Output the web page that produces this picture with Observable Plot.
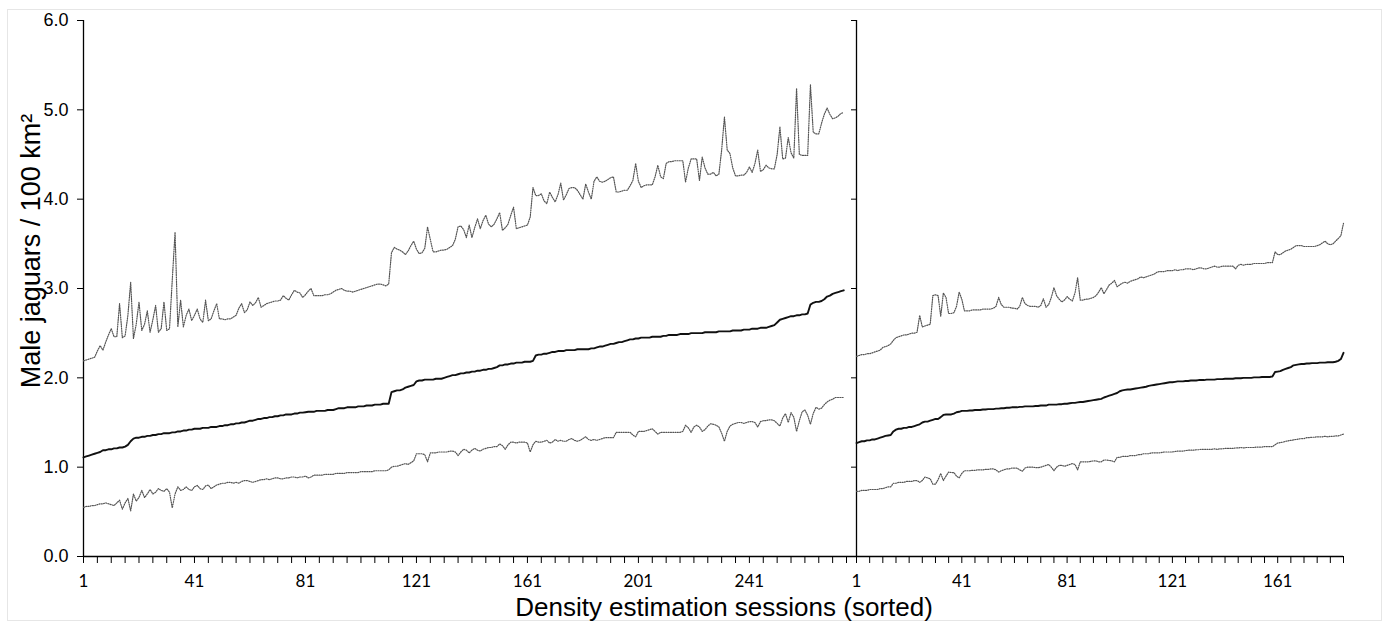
<!DOCTYPE html>
<html><head><meta charset="utf-8">
<script src="https://cdn.jsdelivr.net/npm/d3@7"></script>
<script src="https://cdn.jsdelivr.net/npm/@observablehq/plot@0.6"></script>
<style>
html,body{margin:0;padding:0;background:#fff;}
#wrap{position:relative;width:1388px;height:623px;overflow:hidden;background:#fff;}
#frame{position:absolute;left:7px;top:9px;width:1373px;height:610px;border:1px solid #e6e6e6;}
.panel{position:absolute;top:0;}
#ytitle{position:absolute;left:31px;top:251px;transform:translate(-50%,-50%) rotate(-90deg);white-space:nowrap;font-family:"Liberation Sans",Arial,sans-serif;font-size:27px;line-height:27px;color:#000;}
#xtitle{position:absolute;left:724px;top:594px;transform:translateX(-50%);white-space:nowrap;font-family:"Liberation Sans",Arial,sans-serif;font-size:26px;line-height:26px;color:#000;}
</style></head><body>
<div id="wrap"><div id="frame"></div><div id="left" class="panel" style="left:0px"></div><div id="right" class="panel" style="left:840px"></div>
<div id="ytitle">Male jaguars / 100 km²</div>
<div id="xtitle">Density estimation sessions (sorted)</div>
</div>
<script>
// ---- Data: left panel (275 sessions) ----
const leftMid = [
1.11,1.12,1.13,1.14,1.15,1.16,1.17,1.19,1.19,1.20,
1.20,1.21,1.21,1.22,1.22,1.23,1.25,1.29,1.32,1.33,
1.33,1.34,1.34,1.35,1.35,1.36,1.36,1.37,1.37,1.38,
1.38,1.38,1.39,1.39,1.40,1.40,1.41,1.41,1.42,1.42,
1.43,1.43,1.43,1.44,1.44,1.44,1.45,1.45,1.45,1.46,
1.46,1.47,1.47,1.48,1.48,1.49,1.49,1.50,1.50,1.51,
1.52,1.52,1.53,1.54,1.54,1.55,1.55,1.56,1.56,1.57,
1.57,1.58,1.58,1.59,1.59,1.59,1.60,1.60,1.61,1.61,
1.615,1.62,1.62,1.62,1.63,1.63,1.63,1.63,1.64,1.64,
1.64,1.65,1.66,1.66,1.66,1.67,1.67,1.67,1.67,1.68,
1.68,1.68,1.69,1.69,1.69,1.70,1.70,1.70,1.71,1.71,
1.71,1.84,1.85,1.86,1.86,1.87,1.89,1.90,1.91,1.92,
1.96,1.97,1.97,1.98,1.98,1.98,1.98,1.99,1.99,1.99,
2.00,2.01,2.02,2.03,2.03,2.04,2.05,2.05,2.06,2.06,
2.07,2.07,2.08,2.08,2.09,2.09,2.10,2.10,2.11,2.12,
2.14,2.14,2.15,2.15,2.16,2.16,2.17,2.17,2.17,2.18,
2.18,2.18,2.19,2.25,2.26,2.26,2.27,2.27,2.28,2.29,
2.29,2.30,2.30,2.30,2.31,2.31,2.31,2.31,2.32,2.32,
2.32,2.32,2.32,2.33,2.33,2.34,2.35,2.35,2.36,2.37,
2.38,2.38,2.39,2.40,2.40,2.41,2.42,2.43,2.43,2.44,
2.44,2.45,2.45,2.45,2.45,2.46,2.46,2.46,2.46,2.47,
2.47,2.48,2.48,2.48,2.48,2.49,2.49,2.49,2.49,2.50,
2.50,2.50,2.50,2.50,2.51,2.51,2.51,2.51,2.51,2.52,
2.52,2.52,2.52,2.52,2.53,2.53,2.53,2.53,2.54,2.54,
2.54,2.55,2.55,2.55,2.56,2.56,2.56,2.57,2.58,2.59,
2.62,2.65,2.66,2.67,2.68,2.69,2.69,2.70,2.70,2.71,
2.71,2.72,2.82,2.84,2.85,2.85,2.86,2.88,2.91,2.92,
2.94,2.95,2.96,2.97,2.98];
const leftUpper = [
2.19,2.20,2.21,2.22,2.23,2.30,2.36,2.31,2.40,2.48,
2.55,2.46,2.46,2.83,2.45,2.47,2.70,3.07,2.44,2.60,
2.85,2.53,2.60,2.75,2.51,2.65,2.81,2.51,2.55,2.85,
2.53,2.55,3.10,3.63,2.57,2.87,2.57,2.70,2.77,2.64,
2.70,2.77,2.66,2.62,2.87,2.64,2.66,2.75,2.83,2.66,
2.66,2.65,2.66,2.66,2.68,2.70,2.78,2.83,2.73,2.76,
2.85,2.81,2.84,2.90,2.79,2.81,2.83,2.84,2.85,2.86,
2.86,2.87,2.92,2.89,2.87,2.93,2.98,2.96,2.95,2.90,
2.93,2.97,3.00,2.92,2.92,2.92,2.92,2.93,2.93,2.94,
2.96,2.98,2.99,3.00,2.98,2.97,2.97,2.96,2.97,2.98,
2.99,3.00,3.01,3.02,3.03,3.04,3.05,3.05,3.04,3.03,
3.05,3.40,3.46,3.44,3.43,3.41,3.38,3.42,3.48,3.53,
3.44,3.39,3.40,3.45,3.69,3.55,3.41,3.41,3.42,3.43,
3.43,3.44,3.46,3.48,3.55,3.69,3.70,3.66,3.57,3.71,
3.57,3.68,3.78,3.67,3.76,3.82,3.72,3.69,3.72,3.78,
3.85,3.65,3.68,3.72,3.82,3.91,3.67,3.68,3.69,3.70,
3.71,3.80,4.13,4.04,4.04,4.06,3.98,3.95,4.08,4.02,
3.97,4.05,4.18,3.99,4.05,4.12,4.13,4.13,4.10,4.05,
4.00,4.17,4.08,4.00,4.20,4.25,4.20,4.19,4.20,4.22,
4.24,4.25,4.08,4.08,4.09,4.10,4.10,4.15,4.21,4.40,
4.20,4.13,4.15,4.16,4.16,4.16,4.25,4.38,4.25,4.23,
4.40,4.42,4.42,4.43,4.43,4.43,4.43,4.19,4.35,4.45,
4.45,4.45,4.21,4.47,4.35,4.28,4.28,4.30,4.26,4.28,
4.55,4.92,4.55,4.51,4.35,4.26,4.26,4.27,4.27,4.30,
4.36,4.30,4.40,4.55,4.31,4.33,4.38,4.35,4.34,4.34,
4.50,4.81,4.45,4.46,4.69,4.52,4.46,5.24,4.50,4.49,
4.49,4.49,5.28,4.75,4.73,4.73,4.85,4.95,5.02,4.95,
4.90,4.91,4.93,4.96,4.97];
const leftLower = [
0.55,0.56,0.56,0.57,0.57,0.58,0.59,0.59,0.60,0.59,
0.58,0.57,0.60,0.63,0.53,0.60,0.65,0.51,0.70,0.62,
0.66,0.74,0.66,0.70,0.75,0.70,0.72,0.76,0.74,0.73,
0.76,0.72,0.545,0.70,0.78,0.74,0.75,0.78,0.75,0.74,
0.78,0.795,0.76,0.75,0.79,0.80,0.76,0.78,0.80,0.81,
0.82,0.82,0.83,0.83,0.82,0.83,0.82,0.84,0.85,0.85,
0.84,0.83,0.84,0.85,0.86,0.86,0.87,0.86,0.87,0.88,
0.88,0.87,0.87,0.88,0.88,0.89,0.89,0.88,0.89,0.89,
0.90,0.88,0.89,0.91,0.91,0.91,0.91,0.92,0.92,0.92,
0.92,0.93,0.93,0.93,0.93,0.94,0.94,0.94,0.94,0.94,
0.95,0.95,0.95,0.95,0.95,0.96,0.96,0.96,0.96,0.96,
0.97,1.00,1.01,1.01,1.02,1.03,1.04,1.03,1.05,1.07,
1.15,1.15,1.15,1.14,1.06,1.16,1.16,1.16,1.17,1.17,
1.17,1.17,1.18,1.18,1.17,1.13,1.17,1.20,1.19,1.16,
1.19,1.21,1.19,1.18,1.20,1.21,1.22,1.22,1.23,1.23,
1.26,1.24,1.20,1.25,1.28,1.28,1.27,1.28,1.28,1.28,
1.27,1.17,1.25,1.29,1.28,1.28,1.29,1.30,1.27,1.28,
1.31,1.29,1.30,1.29,1.29,1.31,1.32,1.30,1.29,1.30,
1.32,1.34,1.31,1.30,1.31,1.30,1.31,1.32,1.33,1.33,
1.33,1.33,1.39,1.39,1.39,1.39,1.39,1.39,1.36,1.34,
1.40,1.40,1.40,1.41,1.42,1.43,1.40,1.37,1.39,1.39,
1.39,1.39,1.39,1.39,1.39,1.39,1.40,1.47,1.44,1.39,
1.45,1.47,1.45,1.40,1.42,1.46,1.485,1.48,1.47,1.45,
1.38,1.29,1.40,1.46,1.48,1.49,1.50,1.50,1.49,1.50,
1.51,1.51,1.50,1.45,1.51,1.52,1.52,1.53,1.53,1.52,
1.49,1.46,1.55,1.60,1.50,1.61,1.56,1.40,1.52,1.62,
1.64,1.58,1.48,1.60,1.67,1.65,1.66,1.70,1.73,1.75,
1.76,1.78,1.78,1.78,1.78];

// ---- Data: right panel (186 sessions) ----
const rightMid = [
1.27,1.28,1.29,1.29,1.30,1.30,1.31,1.31,1.32,1.33,
1.34,1.35,1.355,1.36,1.40,1.42,1.43,1.43,1.44,1.44,
1.45,1.45,1.46,1.47,1.48,1.50,1.51,1.51,1.52,1.53,
1.54,1.54,1.56,1.585,1.59,1.59,1.59,1.60,1.615,1.62,
1.63,1.63,1.63,1.635,1.635,1.64,1.64,1.64,1.645,1.645,
1.65,1.65,1.65,1.655,1.655,1.66,1.66,1.665,1.665,1.67,
1.67,1.67,1.675,1.675,1.68,1.68,1.68,1.68,1.685,1.685,
1.69,1.69,1.69,1.70,1.70,1.70,1.70,1.705,1.705,1.71,
1.71,1.715,1.72,1.72,1.725,1.73,1.73,1.735,1.74,1.745,
1.75,1.755,1.76,1.765,1.78,1.79,1.80,1.81,1.82,1.83,
1.85,1.86,1.865,1.87,1.87,1.875,1.88,1.885,1.89,1.895,
1.90,1.91,1.915,1.92,1.925,1.93,1.935,1.94,1.945,1.95,
1.95,1.955,1.96,1.96,1.96,1.965,1.965,1.97,1.97,1.97,
1.975,1.975,1.975,1.98,1.98,1.98,1.98,1.985,1.985,1.985,
1.99,1.99,1.99,1.99,1.995,1.995,1.995,2.00,2.00,2.00,
2.00,2.005,2.005,2.005,2.01,2.01,2.01,2.01,2.015,2.065,
2.07,2.075,2.09,2.10,2.11,2.12,2.14,2.145,2.15,2.155,
2.155,2.16,2.16,2.165,2.165,2.165,2.17,2.17,2.17,2.175,
2.175,2.175,2.18,2.19,2.21,2.28];
const rightUpper = [
2.24,2.25,2.26,2.26,2.27,2.27,2.28,2.29,2.30,2.31,
2.34,2.35,2.36,2.38,2.42,2.45,2.46,2.47,2.48,2.48,
2.49,2.50,2.50,2.51,2.70,2.57,2.58,2.59,2.60,2.92,
2.93,2.92,2.69,2.95,2.90,2.72,2.72,2.73,2.80,2.96,
2.88,2.75,2.75,2.75,2.76,2.76,2.76,2.76,2.77,2.77,
2.77,2.77,2.78,2.80,2.90,2.82,2.79,2.79,2.79,2.78,
2.78,2.77,2.80,2.90,2.83,2.81,2.80,2.80,2.80,2.79,
2.81,2.885,2.79,2.82,2.90,3.01,2.92,2.88,2.85,2.87,
2.91,2.88,2.86,2.95,3.12,2.87,2.87,2.88,2.88,2.89,
2.90,2.92,2.96,3.01,2.94,2.99,3.04,3.06,3.09,3.02,
3.04,3.06,3.07,3.06,3.08,3.09,3.10,3.11,3.13,3.12,
3.13,3.14,3.15,3.16,3.18,3.19,3.19,3.19,3.20,3.20,
3.20,3.21,3.20,3.21,3.21,3.22,3.22,3.22,3.21,3.22,
3.23,3.23,3.22,3.22,3.23,3.24,3.25,3.24,3.24,3.25,
3.25,3.25,3.25,3.25,3.22,3.26,3.27,3.26,3.27,3.27,
3.27,3.28,3.28,3.28,3.28,3.28,3.29,3.29,3.29,3.41,
3.38,3.38,3.40,3.42,3.43,3.44,3.46,3.48,3.48,3.48,
3.47,3.47,3.47,3.47,3.47,3.48,3.49,3.51,3.53,3.50,
3.49,3.50,3.53,3.56,3.59,3.73];
const rightLower = [
0.73,0.73,0.74,0.74,0.74,0.75,0.75,0.75,0.75,0.76,
0.76,0.77,0.78,0.78,0.82,0.82,0.83,0.83,0.83,0.84,
0.84,0.84,0.85,0.85,0.83,0.85,0.89,0.88,0.87,0.81,
0.81,0.86,0.93,0.85,0.90,0.945,0.94,0.94,0.90,0.88,
0.93,0.96,0.96,0.96,0.965,0.965,0.97,0.97,0.97,0.975,
0.975,0.98,0.98,0.97,0.945,0.96,0.97,0.98,0.98,0.99,
0.99,0.99,0.97,0.955,0.99,1.00,1.00,1.00,0.995,0.995,
1.00,1.01,1.02,1.03,1.00,0.96,1.00,1.02,1.02,1.01,
1.02,1.03,1.04,1.03,0.97,1.06,1.06,1.06,1.06,1.065,
1.07,1.07,1.06,1.06,1.08,1.08,1.075,1.07,1.06,1.11,
1.11,1.12,1.12,1.12,1.13,1.13,1.13,1.14,1.14,1.15,
1.15,1.15,1.16,1.16,1.16,1.16,1.165,1.17,1.17,1.17,
1.17,1.175,1.18,1.18,1.18,1.185,1.19,1.19,1.19,1.195,
1.195,1.20,1.20,1.20,1.20,1.20,1.205,1.20,1.205,1.205,
1.21,1.21,1.21,1.21,1.215,1.215,1.22,1.215,1.22,1.22,
1.22,1.22,1.225,1.225,1.225,1.23,1.23,1.23,1.23,1.25,
1.27,1.275,1.28,1.29,1.295,1.30,1.305,1.31,1.315,1.32,
1.32,1.33,1.33,1.335,1.335,1.34,1.34,1.34,1.345,1.34,
1.345,1.345,1.35,1.35,1.36,1.37];

// ---- Tick labels ----
const yTicks = [0, 1, 2, 3, 4, 5, 6];
const xLabelsLeft = [1, 41, 81, 121, 161, 201, 241];
const xLabelsRight = [1, 41, 81, 121, 161];

const H = 600, MT = 20, MB = 44;
const toRows = arr => arr.map((v, i) => ({s: i + 1, v}));

function panel({width, marginLeft, marginRight, xDomain, mid, upper, lower, labels, showYLabels}) {
  const minor = d3.range(1, xDomain[1] + 0.001, 5);
  const dotted = {x: "s", y: "v", stroke: "#555", strokeWidth: 1.2, strokeDasharray: "1,1.3"};
  const svg = Plot.plot({
    width, height: H, marginLeft, marginRight, marginTop: MT, marginBottom: MB,
    style: {fontFamily: "Lato, 'Open Sans', sans-serif", fontSize: "17px", background: "transparent", overflow: "visible", color: "#000"},
    x: {domain: xDomain, ticks: minor, tickFormat: d => labels.includes(d) ? String(d) : "", tickSize: 7, tickPadding: 11, label: null},
    y: {domain: [0, 6], ticks: yTicks, tickFormat: showYLabels ? d3.format(".1f") : () => "", tickSize: showYLabels ? 6 : 5, tickPadding: 9, label: null},
    marks: [
      Plot.ruleY([0], {stroke: "#000", strokeWidth: 1.3}),
      Plot.ruleX([1], {stroke: "#000", strokeWidth: 1.3}),
      Plot.line(toRows(upper), dotted),
      Plot.line(toRows(lower), dotted),
      Plot.line(toRows(mid), {x: "s", y: "v", stroke: "#111", strokeWidth: 1.9})
    ]
  });
  d3.select(svg).selectAll('g[aria-label="y-axis tick label"]')
    .attr("font-family", "'Liberation Sans', Arial, sans-serif").attr("font-size", 18);
  return svg;
}

document.getElementById("left").appendChild(panel({
  width: 860, marginLeft: 83, marginRight: 4, xDomain: [1, 279.6],
  mid: leftMid, upper: leftUpper, lower: leftLower, labels: xLabelsLeft, showYLabels: true
}));
document.getElementById("right").appendChild(panel({
  width: 548, marginLeft: 16, marginRight: 45, xDomain: [1, 186],
  mid: rightMid, upper: rightUpper, lower: rightLower, labels: xLabelsRight, showYLabels: false
}));
</script>
</body></html>
